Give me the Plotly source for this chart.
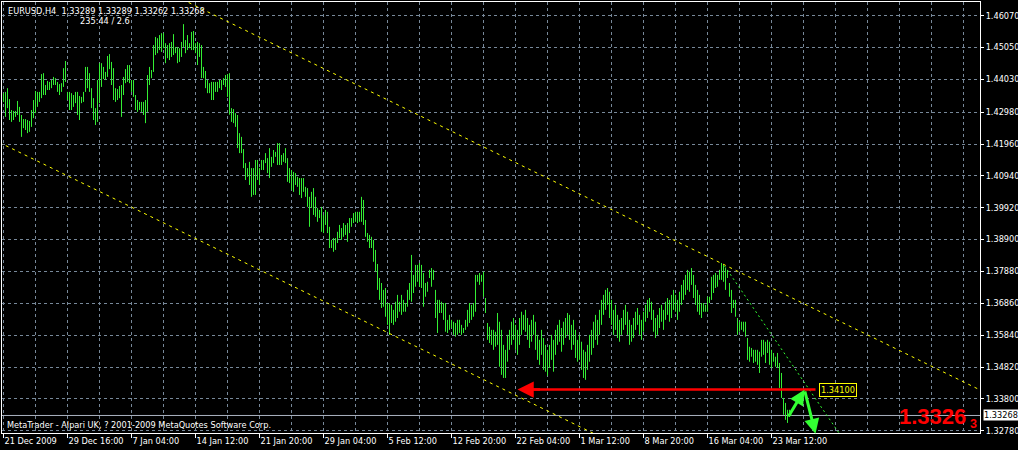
import plotly.graph_objects as go

# ---------------- data ----------------
highs = [
1.4359,1.4363,1.4375,1.4340,1.4305,1.4302,1.4302,1.4334,1.4315,1.4289,
1.4276,1.4276,1.4273,1.4270,1.4305,1.4337,1.4366,1.4363,1.4363,1.4420,
1.4423,1.4385,1.4398,1.4395,1.4401,1.4411,1.4407,1.4395,1.4388,1.4391,
1.4439,1.4462,1.4363,1.4363,1.4359,1.4353,1.4363,1.4363,1.4350,1.4347,
1.4363,1.4443,1.4443,1.4423,1.4375,1.4343,1.4311,1.4401,1.4455,1.4455,
1.4443,1.4427,1.4478,1.4484,1.4459,1.4439,1.4375,1.4372,1.4382,1.4385,
1.4411,1.4436,1.4449,1.4449,1.4401,1.4401,1.4353,1.4337,1.4331,1.4331,
1.4331,1.4337,1.4417,1.4443,1.4433,1.4513,1.4539,1.4535,1.4545,1.4551,
1.4551,1.4519,1.4513,1.4519,1.4523,1.4548,1.4507,1.4507,1.4503,1.4523,
1.4580,1.4529,1.4545,1.4519,1.4555,1.4558,1.4519,1.4523,1.4519,1.4513,
1.4443,1.4430,1.4401,1.4391,1.4395,1.4395,1.4395,1.4395,1.4401,1.4401,
1.4407,1.4417,1.4420,1.4423,1.4311,1.4308,1.4295,1.4289,1.4231,1.4219,
1.4180,1.4135,1.4119,1.4139,1.4119,1.4119,1.4145,1.4145,1.4119,1.4145,
1.4145,1.4167,1.4151,1.4183,1.4155,1.4177,1.4171,1.4199,1.4199,1.4161,
1.4167,1.4183,1.4151,1.4119,1.4113,1.4107,1.4103,1.4091,1.4087,1.4087,
1.4087,1.4059,1.4055,1.4027,1.4043,1.4055,1.4027,1.3991,1.3985,1.3995,
1.3969,1.3985,1.3979,1.3931,1.3889,1.3895,1.3895,1.3915,1.3937,1.3927,
1.3943,1.3937,1.3943,1.3959,1.3959,1.3975,1.3979,1.3979,1.3979,1.4027,
1.4017,1.3953,1.3911,1.3905,1.3899,1.3889,1.3857,1.3812,1.3767,1.3751,
1.3729,1.3735,1.3687,1.3687,1.3681,1.3665,1.3691,1.3713,1.3691,1.3713,
1.3697,1.3687,1.3729,1.3751,1.3841,1.3777,1.3809,1.3809,1.3815,1.3809,
1.3783,1.3751,1.3755,1.3793,1.3799,1.3793,1.3729,1.3697,1.3697,1.3691,
1.3687,1.3687,1.3633,1.3649,1.3633,1.3627,1.3623,1.3633,1.3633,1.3617,
1.3607,1.3633,1.3665,1.3687,1.3681,1.3687,1.3777,1.3777,1.3783,1.3777,
1.3787,1.3703,1.3623,1.3611,1.3601,1.3601,1.3595,1.3655,1.3627,1.3601,
1.3553,1.3537,1.3585,1.3601,1.3627,1.3639,1.3617,1.3601,1.3639,1.3659,
1.3649,1.3665,1.3639,1.3617,1.3633,1.3649,1.3627,1.3585,1.3569,1.3601,
1.3575,1.3553,1.3537,1.3553,1.3585,1.3569,1.3601,1.3617,1.3633,1.3607,
1.3627,1.3639,1.3655,1.3649,1.3617,1.3633,1.3601,1.3569,1.3585,1.3563,
1.3537,1.3531,1.3553,1.3585,1.3601,1.3627,1.3649,1.3633,1.3665,1.3697,
1.3713,1.3729,1.3735,1.3723,1.3697,1.3665,1.3681,1.3649,1.3633,1.3639,
1.3665,1.3681,1.3659,1.3633,1.3617,1.3639,1.3659,1.3671,1.3649,1.3633,
1.3659,1.3681,1.3697,1.3703,1.3691,1.3665,1.3639,1.3649,1.3671,1.3681,
1.3665,1.3691,1.3703,1.3697,1.3713,1.3729,1.3713,1.3697,1.3723,1.3745,
1.3761,1.3777,1.3793,1.3787,1.3799,1.3777,1.3745,1.3729,1.3713,1.3687,
1.3687,1.3681,1.3707,1.3707,1.3771,1.3777,1.3783,1.3777,1.3793,1.3815,
1.3809,1.3799,1.3793,1.3751,1.3729,1.3697,1.3697,1.3639,1.3627,1.3627,
1.3627,1.3627,1.3575,1.3547,1.3543,1.3537,1.3537,1.3537,1.3531,1.3569,
1.3569,1.3563,1.3569,1.3563,1.3537,1.3527,1.3515,1.3527,1.3495,1.3463,
1.3383,1.3367,1.3345,1.3345,1.33289,
]
lows = [
1.4331,1.4283,1.4311,1.4273,1.4267,1.4273,1.4283,1.4289,1.4267,1.4219,
1.4247,1.4241,1.4231,1.4235,1.4251,1.4279,1.4295,1.4315,1.4331,1.4343,
1.4353,1.4353,1.4369,1.4369,1.4375,1.4385,1.4385,1.4363,1.4353,1.4363,
1.4379,1.4395,1.4337,1.4305,1.4305,1.4315,1.4327,1.4289,1.4273,1.4327,
1.4331,1.4363,1.4375,1.4363,1.4311,1.4273,1.4257,1.4267,1.4327,1.4379,
1.4404,1.4401,1.4411,1.4436,1.4385,1.4337,1.4331,1.4337,1.4343,1.4283,
1.4353,1.4391,1.4395,1.4391,1.4363,1.4347,1.4305,1.4299,1.4305,1.4299,
1.4289,1.4263,1.4299,1.4385,1.4407,1.4427,1.4481,1.4487,1.4497,1.4491,
1.4503,1.4455,1.4471,1.4465,1.4475,1.4481,1.4487,1.4455,1.4459,1.4475,
1.4507,1.4487,1.4497,1.4503,1.4497,1.4497,1.4487,1.4449,1.4475,1.4407,
1.4407,1.4375,1.4359,1.4359,1.4337,1.4337,1.4363,1.4363,1.4375,1.4369,
1.4385,1.4379,1.4347,1.4290,1.4267,1.4263,1.4251,1.4183,1.4167,1.4167,
1.4119,1.4081,1.4091,1.4065,1.4027,1.4033,1.4033,1.4081,1.4065,1.4113,
1.4113,1.4135,1.4103,1.4087,1.4123,1.4135,1.4155,1.4129,1.4129,1.4129,
1.4139,1.4135,1.4075,1.4071,1.4049,1.4043,1.4065,1.4059,1.4033,1.4023,
1.4043,1.4027,1.3995,1.3931,1.3991,1.3969,1.3963,1.3947,1.3959,1.3915,
1.3911,1.3937,1.3911,1.3863,1.3863,1.3851,1.3857,1.3879,1.3895,1.3889,
1.3899,1.3905,1.3883,1.3911,1.3931,1.3943,1.3947,1.3943,1.3947,1.3947,
1.3937,1.3899,1.3883,1.3863,1.3863,1.3819,1.3787,1.3729,1.3697,1.3671,
1.3675,1.3643,1.3617,1.3585,1.3623,1.3617,1.3627,1.3639,1.3659,1.3649,
1.3659,1.3659,1.3675,1.3697,1.3691,1.3719,1.3739,1.3755,1.3739,1.3735,
1.3675,1.3707,1.3723,1.3767,1.3739,1.3761,1.3639,1.3591,1.3655,1.3655,
1.3633,1.3595,1.3591,1.3601,1.3607,1.3585,1.3579,1.3585,1.3591,1.3585,
1.3591,1.3601,1.3611,1.3623,1.3633,1.3643,1.3659,1.3755,1.3745,1.3755,
1.3707,1.3655,1.3569,1.3559,1.3553,1.3537,1.3547,1.3553,1.3483,1.3457,
1.3447,1.3447,1.3499,1.3537,1.3553,1.3569,1.3537,1.3521,1.3553,1.3585,
1.3601,1.3595,1.3569,1.3543,1.3563,1.3585,1.3537,1.3505,1.3489,1.3521,
1.3473,1.3467,1.3454,1.3479,1.3505,1.3467,1.3521,1.3553,1.3563,1.3531,
1.3553,1.3575,1.3585,1.3569,1.3537,1.3553,1.3511,1.3499,1.3505,1.3473,
1.3447,1.3441,1.3473,1.3499,1.3521,1.3543,1.3569,1.3553,1.3585,1.3617,
1.3649,1.3665,1.3681,1.3639,1.3617,1.3585,1.3601,1.3575,1.3563,1.3585,
1.3601,1.3617,1.3585,1.3553,1.3563,1.3575,1.3601,1.3617,1.3585,1.3569,
1.3595,1.3627,1.3639,1.3659,1.3633,1.3595,1.3575,1.3585,1.3607,1.3627,
1.3601,1.3633,1.3649,1.3627,1.3639,1.3665,1.3659,1.3633,1.3659,1.3681,
1.3697,1.3713,1.3729,1.3723,1.3745,1.3703,1.3681,1.3659,1.3649,1.3639,
1.3659,1.3659,1.3659,1.3687,1.3697,1.3719,1.3735,1.3739,1.3761,1.3761,
1.3755,1.3729,1.3767,1.3707,1.3655,1.3671,1.3643,1.3585,1.3595,1.3601,
1.3595,1.3579,1.3505,1.3499,1.3515,1.3495,1.3499,1.3489,1.3463,1.3515,
1.3521,1.3495,1.3527,1.3489,1.3479,1.3499,1.3483,1.3479,1.3415,1.3383,
1.3329,1.3313,1.3303,1.3323,1.33262,
]

time_label_bars = [0, 32, 64, 96, 128, 160, 192, 224, 256, 288, 320, 352, 384]
time_labels = ["21 Dec 2009", "29 Dec 16:00", "7 Jan 04:00", "14 Jan 12:00",
               "21 Jan 20:00", "29 Jan 04:00", "5 Feb 12:00", "12 Feb 20:00",
               "22 Feb 04:00", "1 Mar 12:00", "8 Mar 20:00", "16 Mar 04:00",
               "23 Mar 12:00"]
price_ticks = [1.46070, 1.45050, 1.44030, 1.42980, 1.41960, 1.40940, 1.39920,
               1.38900, 1.37880, 1.36860, 1.35840, 1.34820, 1.33800, 1.32780]

bid_price = 1.33268
header_text = "EURUSD,H4  1.33289 1.33289 1.33262 1.33268"
timer_text = "235:44 / 2.6"
copyright_text = "MetaTrader - Alpari UK, ? 2001-2009 MetaQuotes Software Corp."

# channel lines (bar index, price)
upper_channel = [(80.0, 1.46887), (490.0, 1.34031)]
lower_channel = [(-2.0, 1.42009), (300.0, 1.32538)]
# green dotted trend line
green_trend = [(360.5, 1.38058), (418.0, 1.32683)]
# red horizontal level with arrow
level_price = 1.34100
level_bars = (406, 257)
# green arrows (tail -> head)
arrow_up = [(392, 1.3319), (400.5, 1.3409)]
arrow_down = [(400.5, 1.3409), (406, 1.3268)]

# ---------------- styling ----------------
BAR_GREEN = "#33ee33"
ARROW_GREEN = "#33ff33"
GRID = "#778899"
FONT = "DejaVu Sans"
FS = 8.2

bar_x, bar_y = [], []
for i, (h, l) in enumerate(zip(highs, lows)):
    bar_x += [i, i, None]
    bar_y += [l, h, None]

fig = go.Figure()
fig.add_trace(go.Scatter(x=bar_x, y=bar_y, mode="lines",
                         line=dict(color=BAR_GREEN, width=1),
                         hoverinfo="skip", showlegend=False))

shapes = []
shapes.append(dict(type="line", xref="paper", x0=0, x1=1, yref="y",
                   y0=bid_price, y1=bid_price,
                   line=dict(color="#aab2c0", width=1), layer="below"))
for (p0, p1) in [upper_channel, lower_channel]:
    shapes.append(dict(type="line", xref="x", yref="y",
                       x0=p0[0], y0=p0[1], x1=p1[0], y1=p1[1],
                       line=dict(color="#ffff00", width=1, dash="3px,4px")))
shapes.append(dict(type="line", xref="x", yref="y",
                   x0=green_trend[0][0], y0=green_trend[0][1],
                   x1=green_trend[1][0], y1=green_trend[1][1],
                   line=dict(color=ARROW_GREEN, width=1, dash="2px,3px")))
shapes.append(dict(type="line", xref="x", yref="y",
                   x0=level_bars[0], x1=level_bars[1] + 3,
                   y0=level_price, y1=level_price,
                   line=dict(color="#ff0000", width=2.5)))

annotations = []
annotations.append(dict(x=level_bars[1], y=level_price, xref="x", yref="y",
                        ax=level_bars[1] + 12, ay=level_price, axref="x", ayref="y",
                        text="", showarrow=True, arrowhead=2, arrowsize=1.3,
                        arrowwidth=2.5, arrowcolor="#ff0000"))
annotations.append(dict(x=level_bars[0] + 1.5, y=level_price, xref="x", yref="y",
                        text="1.34100", showarrow=False, xanchor="left",
                        font=dict(family=FONT, size=FS, color="#ffff00"),
                        bgcolor="#000000", bordercolor="#ffff00",
                        borderwidth=1, borderpad=1))
for (tail, head) in [arrow_up, arrow_down]:
    annotations.append(dict(x=head[0], y=head[1], xref="x", yref="y",
                            ax=tail[0], ay=tail[1], axref="x", ayref="y",
                            text="", showarrow=True, arrowhead=2, arrowsize=1,
                            arrowwidth=3, arrowcolor=ARROW_GREEN))
annotations.append(dict(x=1.0031, y=bid_price, xref="paper", yref="y",
                        text=f"{bid_price:.5f}", showarrow=False, xanchor="left",
                        font=dict(family=FONT, size=FS, color="#000000"),
                        bgcolor="#ffffff", borderpad=0))
annotations.append(dict(x=0.0041, y=0.979, xref="paper", yref="paper",
                        text=header_text.replace("  ", "&nbsp;&nbsp;"),
                        showarrow=False, xanchor="left", yanchor="middle",
                        font=dict(family=FONT, size=FS, color="#ffffff")))
annotations.append(dict(x=0.0777, y=0.956, xref="paper", yref="paper",
                        text=timer_text, showarrow=False, xanchor="left",
                        yanchor="middle",
                        font=dict(family=FONT, size=FS, color="#ffffff")))
annotations.append(dict(x=0.003, y=0.0186, xref="paper", yref="paper",
                        text=copyright_text, showarrow=False, xanchor="left",
                        yanchor="middle",
                        font=dict(family=FONT, size=FS, color="#ffffff")))
annotations.append(dict(x=0.9877, y=0.039, xref="paper", yref="paper",
                        text="<b>1.3326</b>", showarrow=False, xanchor="right",
                        yanchor="middle",
                        font=dict(family="Liberation Sans", size=22, color="#ff0000")))
annotations.append(dict(x=0.9877, y=0.020, xref="paper", yref="paper",
                        text="<b>3</b>", showarrow=False, xanchor="left",
                        yanchor="middle",
                        font=dict(family="Liberation Sans", size=12.5, color="#ff0000")))

fig.update_layout(
    width=1018, height=450,
    margin=dict(l=2, r=38, t=2, b=17, autoexpand=False),
    paper_bgcolor="#000000", plot_bgcolor="#000000",
    showlegend=False, hovermode=False,
    shapes=shapes, annotations=annotations,
    xaxis=dict(range=[-0.75, 488.25], tickmode="array",
               tickvals=time_label_bars, ticktext=time_labels, tickangle=0,
               automargin=False,
               ticks="outside", ticklen=4, tickcolor="#ffffff", tickwidth=1,
               ticklabelposition="outside right",
               tickfont=dict(family=FONT, size=FS, color="#ffffff"),
               showgrid=False, zeroline=False,
               showline=True, linecolor="#ffffff", linewidth=1, mirror=True,
               minor=dict(tickmode="linear", tick0=0, dtick=16, showgrid=True,
                          gridcolor=GRID, griddash="3px,3px", gridwidth=1,
                          ticks="")),
    yaxis=dict(side="right", range=[1.32707, 1.46509], tickmode="array",
               tickvals=price_ticks, tickformat=".5f", automargin=False,
               ticks="outside", ticklen=3, tickcolor="#ffffff",
               tickfont=dict(family=FONT, size=FS, color="#ffffff"),
               showgrid=True, gridcolor=GRID, griddash="3px,3px", gridwidth=1,
               zeroline=False, showline=True, linecolor="#ffffff",
               linewidth=1, mirror=True),
)

fig.write_html("out.html", config={"displayModeBar": False},
               post_script="document.body.style.margin='0';"
                           "document.body.style.overflow='hidden';")
